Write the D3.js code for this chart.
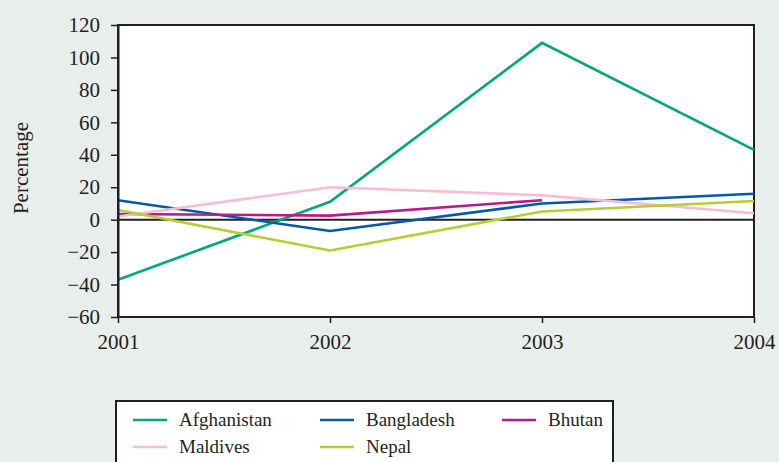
<!DOCTYPE html>
<html>
<head>
    <script src="https://d3js.org/d3.v7.min.js"></script>
    <style>
        body { margin: 0; background: #e8eeec; }
        svg text { font-family: 'Liberation Serif', 'Times New Roman', Times, serif !important; fill: #231f20; }
    </style>
</head>
<body>
    <div id="container"></div>
    <script>
        const width = 779;
        const height = 462;
        const margin = { top: 25, right: 24, bottom: 145, left: 118 };
        const serif = "'Liberation Serif', 'Times New Roman', Times, serif";

        const years = [2001, 2002, 2003, 2004];
        const yTicks = [-60, -40, -20, 0, 20, 40, 60, 80, 100, 120];
        const countries = ['Afghanistan', 'Bangladesh', 'Bhutan', 'Maldives', 'Nepal'];
        const colors = ['#00a878', '#0059a9', '#b8198c', '#f8bcd8', '#b4cf2f'];

        const afghanistan = [-37, 11, 109, 43];
        const bangladesh = [12, -7, 10, 16];
        const bhutan = [3.5, 2.5, 12, null];
        const maldives = [2, 20, 15, 4];
        const nepal = [6, -19, 5, 11.5];
        const series = [afghanistan, bangladesh, bhutan, maldives, nepal];

        const x = d3.scaleLinear()
            .domain([2001, 2004])
            .range([margin.left, width - margin.right - 1]);

        const y = d3.scaleLinear()
            .domain([-60, 120])
            .range([height - margin.bottom, margin.top]);

        const svg = d3.select("#container").append("svg")
            .attr("width", width)
            .attr("height", height)
            .attr("font-family", serif);

        svg.append("rect")
            .attr("x", x(2001))
            .attr("y", y(120))
            .attr("width", x(2004) - x(2001))
            .attr("height", y(-60) - y(120))
            .attr("fill", "#fff")
            .attr("stroke", "#231f20")
            .attr("stroke-width", 2);

        // zero line
        svg.append("line")
            .attr("x1", x(2001)).attr("x2", x(2004))
            .attr("y1", y(0)).attr("y2", y(0))
            .attr("stroke", "#231f20")
            .attr("stroke-width", 2);

        const line = d3.line()
            .defined(d => d != null)
            .x((d, i) => x(years[i]))
            .y(d => y(d));

        series.forEach((s, i) => {
            svg.append("path")
                .datum(s)
                .attr("fill", "none")
                .attr("stroke", colors[i])
                .attr("stroke-width", 2.6)
                .attr("d", line);
        });

        const yAxis = svg.append("g")
            .attr("transform", `translate(${margin.left},0)`)
            .call(d3.axisLeft(y).tickValues(yTicks).tickSize(7).tickSizeOuter(0)
                .tickFormat(d => d < 0 ? "\u2212" + Math.abs(d) : d));
        yAxis.attr("font-family", serif).attr("font-size", 21);
        yAxis.select(".domain").attr("stroke", "#231f20").attr("stroke-width", 2);
        yAxis.selectAll(".tick line").attr("stroke", "#231f20").attr("stroke-width", 1.5);
        yAxis.selectAll(".tick text").attr("x", -18);

        const xAxis = svg.append("g")
            .attr("transform", `translate(0,${height - margin.bottom})`)
            .call(d3.axisBottom(x).tickValues(years).tickFormat(d3.format("d")).tickSize(6).tickSizeOuter(0));
        xAxis.attr("font-family", serif).attr("font-size", 21);
        xAxis.select(".domain").remove();
        xAxis.selectAll(".tick line").attr("stroke", "#231f20").attr("stroke-width", 1.5);
        xAxis.selectAll(".tick text").attr("y", 17);

        svg.append("text")
            .attr("transform", `translate(28,168) rotate(-90)`)
            .attr("text-anchor", "middle")
            .attr("font-size", 21)
            .text("Percentage");

        // legend
        const legend = svg.append("g");
        legend.append("rect")
            .attr("x", 116).attr("y", 401)
            .attr("width", 497).attr("height", 70)
            .attr("fill", "#fff")
            .attr("stroke", "#231f20")
            .attr("stroke-width", 2);

        const legendX = [133, 320, 502];
        const legendY = [420, 447];
        countries.forEach((c, i) => {
            const lx = legendX[i % 3];
            const ly = legendY[Math.floor(i / 3)];
            legend.append("line")
                .attr("x1", lx).attr("x2", lx + 34)
                .attr("y1", ly).attr("y2", ly)
                .attr("stroke", colors[i])
                .attr("stroke-width", 2.6);
            legend.append("text")
                .attr("x", lx + 46)
                .attr("y", ly + 6)
                .attr("font-size", 19)
                .text(c);
        });
    </script>
</body>
</html>
